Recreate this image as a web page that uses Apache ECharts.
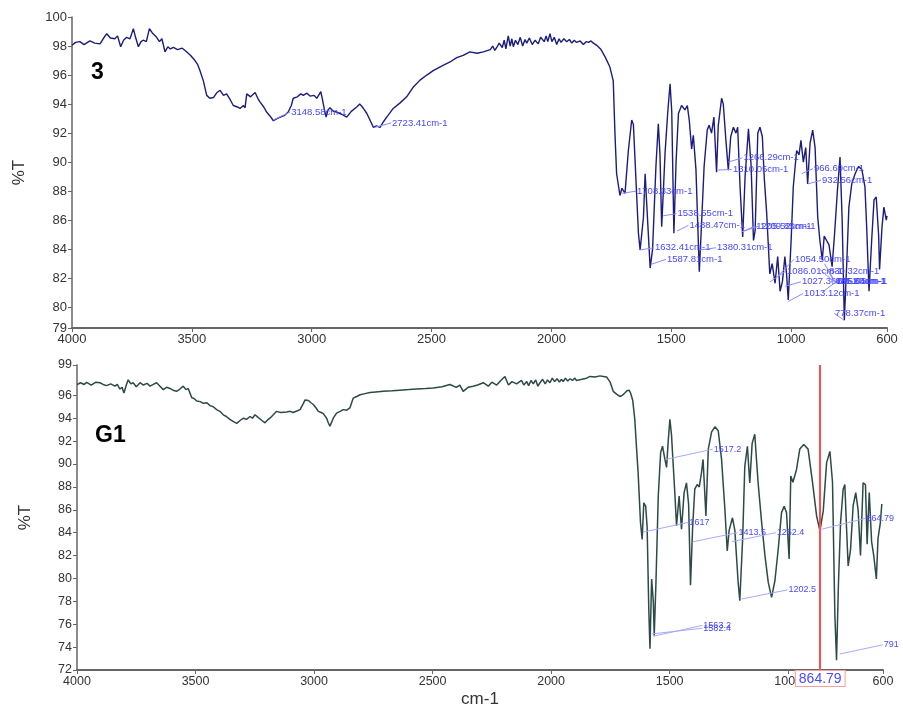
<!DOCTYPE html>
<html>
<head>
<meta charset="utf-8">
<script src="https://cdn.jsdelivr.net/npm/echarts@6/dist/echarts.min.js"></script>
<style>html,body{margin:0;padding:0;background:#fff;}#chart{width:903px;height:709px;}</style>
</head>
<body>
<div id="chart"></div>
<script>
// ---------- DATA ----------
const xTicks = [4000, 3500, 3000, 2500, 2000, 1500, 1000, 600];
const yTicks3 = [78.57, 80, 82, 84, 86, 88, 90, 92, 94, 96, 98, 100];
const yTicksG1 = [72, 74, 76, 78, 80, 82, 84, 86, 88, 90, 92, 94, 96, 98.65];

// spectrum of compound 3: [wavenumber cm-1, %T]
const spectrum3 = [
[4000,98.05],[3985,98.25],[3967,98.3],[3950,98.1],[3925,98.35],[3905,98.2],[3883,98.15],[3870,98.5],[3855,98.85],[3840,98.55],
[3821,98.5],[3810,98.7],[3797,97.95],[3785,98.4],[3772,98.6],[3758,98.5],[3744,99.2],[3735,98.6],[3723,97.95],[3712,98.3],
[3703,98.4],[3690,98.3],[3677,99.2],[3665,98.9],[3647,98.6],[3635,98.3],[3625,98.5],[3612,97.6],[3600,97.95],[3590,97.8],
[3577,97.9],[3560,97.75],[3540,97.85],[3522,97.6],[3505,97.35],[3487,97.0],[3475,96.7],[3466,96.3],[3452,95.6],[3438,94.6],
[3425,94.4],[3410,94.45],[3395,94.8],[3382,94.95],[3368,94.6],[3355,94.7],[3340,94.3],[3327,93.9],[3310,93.8],[3299,93.7],
[3285,93.9],[3278,93.75],[3271,94.7],[3255,94.5],[3236,94.8],[3225,94.4],[3216,94.15],[3200,93.8],[3188,93.45],[3175,93.2],
[3160,92.85],[3145,93.0],[3131,93.1],[3115,93.2],[3098,93.45],[3085,93.9],[3077,94.4],[3060,94.5],[3045,94.7],[3035,94.6],
[3020,94.75],[3007,94.55],[2990,94.6],[2979,94.4],[2962,94.85],[2955,94.3],[2948,93.7],[2940,93.1],[2932,93.6],[2924,93.75],
[2910,93.5],[2896,93.45],[2875,93.3],[2854,93.1],[2835,93.5],[2812,93.8],[2800,94.0],[2791,93.85],[2780,93.6],[2770,93.35],
[2757,92.9],[2743,92.4],[2730,92.5],[2715,92.4],[2700,92.8],[2687,93.1],[2660,93.7],[2630,94.1],[2604,94.5],[2575,95.2],
[2548,95.65],[2520,96.0],[2493,96.3],[2460,96.6],[2423,96.9],[2395,97.2],[2368,97.35],[2340,97.6],[2310,97.5],[2284,97.6],
[2255,97.75],[2245,98.0],[2236,97.7],[2228,97.9],[2218,98.2],[2205,97.9],[2197,98.4],[2190,97.8],[2180,98.7],[2172,98.0],
[2165,98.5],[2159,97.95],[2150,98.4],[2140,98.1],[2130,98.6],[2120,98.0],[2110,98.45],[2103,98.2],[2092,98.55],[2080,98.1],
[2068,98.4],[2055,98.15],[2045,98.6],[2030,98.3],[2022,98.7],[2015,98.3],[2006,98.85],[1998,98.3],[1988,98.6],[1978,98.1],
[1968,98.5],[1960,98.25],[1948,98.5],[1936,98.3],[1925,98.45],[1915,98.2],[1905,98.4],[1895,98.25],[1880,98.35],[1867,98.1],
[1855,98.3],[1845,98.25],[1835,98.35],[1825,98.2],[1811,98.05],[1795,97.8],[1776,97.25],[1756,96.55],[1742,95.6],[1735,92.0],
[1728,89.2],[1714,87.7],[1706,88.2],[1700,88.3],[1693,87.85],[1679,90.8],[1665,92.9],[1658,92.6],[1651,92.5],[1637,85.1],
[1630,83.95],[1616,86.2],[1609,89.2],[1602,87.0],[1588,82.7],[1578,84.0],[1564,89.7],[1554,92.65],[1547,90.5],[1540,85.55],
[1533,88.0],[1526,90.6],[1515,93.35],[1505,95.4],[1498,93.5],[1489,85.1],[1480,90.0],[1470,93.35],[1457,93.9],[1443,93.6],
[1433,93.9],[1425,92.9],[1415,90.9],[1408,91.85],[1397,89.5],[1383,82.45],[1373,86.0],[1363,89.7],[1350,92.2],[1342,92.55],
[1332,92.0],[1322,93.1],[1311,89.3],[1304,92.5],[1290,94.4],[1283,94.0],[1272,91.5],[1262,89.45],[1252,91.75],[1241,92.4],
[1230,92.0],[1223,92.4],[1213,88.3],[1202,84.85],[1192,89.0],[1178,92.3],[1167,89.8],[1157,84.6],[1150,85.3],[1139,92.0],
[1130,92.4],[1120,91.75],[1112,88.9],[1102,86.5],[1089,82.3],[1079,83.0],[1067,81.65],[1056,83.5],[1046,81.1],[1036,81.8],
[1026,83.5],[1019,82.3],[1012,80.5],[1000,84.6],[991,88.3],[977,90.8],[967,90.5],[959,91.5],[949,90.0],[939,91.0],
[931,88.5],[921,91.3],[910,92.2],[900,91.0],[889,86.2],[880,84.6],[870,83.25],[862,84.9],[852,84.6],[842,84.3],
[829,82.8],[819,85.0],[807,88.0],[796,90.35],[787,86.0],[778,79.1],[768,83.0],[759,86.9],[747,88.5],[733,89.2],
[719,89.7],[705,89.5],[692,88.3],[685,85.6],[675,81.1],[664,84.6],[654,87.4],[645,87.6],[635,85.0],[631,82.6],
[621,85.5],[613,86.9],[603,86.0],[600,86.3]
];

// spectrum of G1: [wavenumber cm-1, %T]
const spectrumG1 = [
[4000,96.93],[3985,97.1],[3970,96.95],[3959,97.13],[3940,96.9],[3920,97.15],[3903,97.1],[3890,96.95],[3875,96.85],[3858,97.0],
[3840,96.8],[3830,96.95],[3819,96.55],[3810,96.7],[3802,96.2],[3792,96.9],[3784,97.35],[3773,97.0],[3763,97.1],[3750,96.75],
[3734,97.1],[3720,96.9],[3705,97.05],[3692,96.8],[3678,96.95],[3664,97.1],[3650,96.8],[3636,96.5],[3622,96.7],[3608,96.6],
[3595,96.45],[3580,96.35],[3566,96.55],[3552,96.8],[3540,96.5],[3531,96.6],[3516,95.8],[3505,95.7],[3495,95.5],[3480,95.45],
[3467,95.3],[3452,95.35],[3439,95.1],[3425,95.0],[3411,94.75],[3397,94.6],[3383,94.3],[3370,94.15],[3355,93.9],[3340,93.7],
[3326,93.55],[3312,93.8],[3298,94.0],[3285,93.9],[3270,94.15],[3260,94.0],[3249,94.3],[3235,94.05],[3220,93.8],[3207,93.6],
[3196,93.85],[3186,94.0],[3172,94.3],[3158,94.6],[3140,94.5],[3116,94.55],[3100,94.6],[3088,94.5],[3070,94.65],[3059,94.75],
[3045,95.3],[3038,95.6],[3024,95.55],[3013,95.35],[3003,95.2],[2990,94.85],[2982,94.6],[2970,94.5],[2961,94.4],[2947,94.0],
[2940,93.6],[2933,93.3],[2925,93.7],[2919,94.0],[2905,94.45],[2890,94.6],[2877,94.75],[2862,94.7],[2849,94.9],[2835,95.75],
[2820,95.9],[2806,96.05],[2785,96.15],[2764,96.25],[2740,96.3],[2708,96.35],[2670,96.4],[2638,96.45],[2600,96.5],[2567,96.55],
[2530,96.6],[2497,96.65],[2460,96.75],[2427,96.95],[2400,96.7],[2385,96.9],[2371,96.35],[2350,96.7],[2329,96.8],[2310,96.9],
[2286,97.1],[2265,96.8],[2250,97.15],[2230,96.9],[2212,97.3],[2195,97.65],[2180,96.9],[2165,97.2],[2146,97.0],[2125,97.3],
[2115,96.9],[2103,97.2],[2095,96.85],[2085,97.3],[2075,97.0],[2065,97.35],[2056,96.8],[2047,97.1],[2036,97.4],[2025,97.0],
[2015,97.35],[2005,97.1],[1995,97.5],[1985,97.2],[1975,97.45],[1965,97.15],[1957,97.4],[1949,97.2],[1940,97.5],[1930,97.25],
[1920,97.45],[1910,97.3],[1900,97.5],[1893,97.3],[1870,97.4],[1850,97.5],[1836,97.65],[1815,97.6],[1794,97.7],[1780,97.65],
[1766,97.6],[1752,97.2],[1738,96.35],[1724,96.1],[1710,95.9],[1700,96.0],[1689,96.2],[1680,96.4],[1671,96.45],[1665,96.2],
[1656,95.6],[1647,93.9],[1640,91.5],[1633,89.25],[1623,84.9],[1616,83.4],[1609,86.6],[1601,86.3],[1595,84.5],[1588,77.3],
[1583,73.85],[1576,79.95],[1569,78.0],[1565,75.0],[1558,79.5],[1548,87.2],[1538,91.0],[1530,91.55],[1520,90.4],[1513,89.7],
[1506,92.0],[1499,93.9],[1492,92.5],[1488,91.0],[1479,87.8],[1471,84.6],[1460,87.2],[1450,84.3],[1439,87.5],[1429,88.35],
[1420,86.5],[1412,79.4],[1403,84.5],[1394,87.8],[1384,88.2],[1375,88.0],[1366,89.2],[1359,90.4],[1347,85.45],[1337,91.3],
[1323,92.8],[1309,93.25],[1295,92.9],[1281,90.4],[1267,86.05],[1257,82.4],[1249,84.2],[1235,85.3],[1225,84.2],[1211,79.65],
[1204,78.05],[1192,83.5],[1183,89.8],[1172,91.55],[1162,88.35],[1152,91.8],[1141,92.6],[1127,88.4],[1112,84.9],[1098,82.0],
[1084,79.65],[1070,78.35],[1056,79.8],[1042,82.55],[1028,85.75],[1017,86.3],[1007,85.75],[996,81.7],[989,88.95],[980,88.4],
[965,89.5],[951,91.3],[934,91.7],[916,91.3],[897,88.35],[880,85.45],[866,84.15],[852,85.9],[838,90.1],[824,91.1],
[813,88.4],[803,76.75],[796,72.85],[788,79.5],[779,84.9],[768,87.8],[761,88.2],[754,84.5],[747,81.1],[737,82.5],
[726,86.35],[715,87.5],[705,86.0],[695,82.0],[684,88.35],[674,88.2],[667,83.0],[658,87.5],[648,83.2],[639,82.0],
[628,79.95],[621,83.5],[611,84.9],[605,86.5]
];

// peak annotations: [peak wavenumber, peak %T, label wavenumber, label %T]
const peaks3 = [
[3161,92.9,3090,93.45],[2736,92.4,2669,92.7],[1705,87.85,1647,88.0],[1630,83.95,1572,84.1],
[1585,82.95,1522,83.3],[1534,86.3,1478,86.45],[1476,85.25,1428,85.65],[1380,83.95,1313,84.1],
[1306,89.45,1247,89.5],[1263,90.0,1203,90.3],[1205,85.2,1150,85.6],[1205,85.2,1134,85.6],
[1055,82.15,988,83.3],[1088,81.75,1021,82.5],[825,81.9,846,82.5],[1025,81.45,959,81.75],
[869,81.05,812,81.75],[880,82.6,820,81.75],[861,83.0,816,81.75],[1012,80.4,950,80.95],
[956,89.2,909,89.55],[930,88.5,875,88.75],[779,79.1,821,79.6]
];
const peakLabels3 = [
'3148.58cm-1','2723.41cm-1','1708.33cm-1','1632.41cm-1','1587.81cm-1','1538.55cm-1','1488.47cm-1','1380.31cm-1',
'1310.05cm-1','1266.29cm-1','1205.52cm-1','1209.85cm-1','1054.50cm-1','1086.01cm-1','830.32cm-1','1027.36cm-1',
'675.05cm-1','631.80cm-1','705.64cm-1','1013.12cm-1','966.69cm-1','932.56cm-1','778.37cm-1'
];
const peaksG1 = [
[1516,90.4,1318,91.3],[1612,84.05,1421,84.9],[1403,83.2,1214,84.0],[1239,83.2,1052,84.0],
[1197,78.2,1003,79.0],[1569,74.95,1362,75.9],[1575,75.15,1362,75.65],[859,84.3,674,85.25],[782,73.4,601,74.2]
];
const peakLabelsG1 = ['1517.2','1617','1413.5','1252.4','1202.5','1563.2','1582.4','864.79','791'];
const cursorG1 = 864.79;

// ---------- CHART ----------
const FONT = '"Liberation Sans", Arial, sans-serif';
const chart = echarts.init(document.getElementById('chart'), null, {renderer: 'canvas'});

function xAxisCfg(gridIndex, name, fs) {
  return {
    type: 'value', gridIndex, min: 600, max: 4000, inverse: true,
    name: name, nameLocation: 'middle', nameGap: 21,
    nameTextStyle: {fontFamily: FONT, fontSize: 17, color: '#333'},
    axisLine: {onZero: false, lineStyle: {color: '#666', width: 2}},
    axisTick: {show: true, length: 4, customValues: xTicks, lineStyle: {color: '#666'}},
    axisLabel: {customValues: xTicks, margin: 5, fontFamily: FONT, fontSize: fs, color: '#333',
      formatter: v => String(v)},
    splitLine: {show: false}
  };
}
function yAxisCfg(gridIndex, min, max, ticks, fs, gap) {
  return {
    type: 'value', gridIndex, min, max,
    name: '%T', nameLocation: 'middle', nameGap: gap, nameRotate: 90,
    nameTextStyle: {fontFamily: FONT, fontSize: 17, color: '#333'},
    axisLine: {show: true, lineStyle: {color: '#666', width: 1.5}},
    axisTick: {show: true, length: 4, customValues: ticks, lineStyle: {color: '#666'}},
    axisLabel: {customValues: ticks, margin: 5, fontFamily: FONT, fontSize: fs, color: '#333',
      formatter: v => String(Math.round(v))},
    splitLine: {show: false}
  };
}
function annotSeries(xi, data, labels, textColor, leaderColor, fs) {
  return {
    type: 'custom', xAxisIndex: xi, yAxisIndex: xi, clip: false, silent: true, z: 5,
    data: data,
    renderItem: function (params, api) {
      const p = api.coord([api.value(0), api.value(1)]);
      const q = api.coord([api.value(2), api.value(3)]);
      return {
        type: 'group',
        children: [
          {type: 'line', shape: {x1: p[0], y1: p[1], x2: q[0], y2: q[1]},
           style: {stroke: leaderColor, lineWidth: 1}},
          {type: 'text', x: q[0] + 1, y: q[1],
           style: {text: labels[params.dataIndex], fill: textColor, fontSize: fs, fontFamily: FONT,
                   align: 'left', verticalAlign: 'middle'}}
        ]
      };
    }
  };
}

chart.setOption({
  animation: false,
  backgroundColor: '#fff',
  title: [
    {text: '3', left: 91, top: 61, padding: 0, textStyle: {fontFamily: FONT, fontSize: 23, fontWeight: 'bold', color: '#000'}},
    {text: 'G1', left: 95, top: 424, padding: 0, textStyle: {fontFamily: FONT, fontSize: 23, fontWeight: 'bold', color: '#000'}}
  ],
  grid: [
    {left: 72, right: 16, top: 17, height: 311},
    {left: 77, right: 20, top: 365, height: 306}
  ],
  xAxis: [xAxisCfg(0, '', 13), xAxisCfg(1, 'cm-1', 12.5)],
  yAxis: [yAxisCfg(0, 78.57, 100, yTicks3, 13, 44), yAxisCfg(1, 72, 98.65, yTicksG1, 12.5, 43)],
  series: [
    {type: 'line', xAxisIndex: 0, yAxisIndex: 0, data: spectrum3, showSymbol: false, symbol: 'none',
     lineStyle: {color: '#1c1c7c', width: 1.4}, z: 3},
    {type: 'line', xAxisIndex: 1, yAxisIndex: 1, data: spectrumG1, showSymbol: false, symbol: 'none',
     lineStyle: {color: '#2c4a46', width: 1.5}, z: 3,
     markLine: {
       silent: true, symbol: ['none', 'none'], animation: false,
       lineStyle: {color: '#ff4d4d', width: 2, type: 'solid'},
       label: {show: true, position: 'start', distance: 1, formatter: () => String(cursorG1),
               fontFamily: FONT, fontSize: 14, color: '#4a4aff', backgroundColor: '#fff',
               borderColor: '#f2a0a0', borderWidth: 1, padding: [1, 3, 0, 3]},
       data: [{xAxis: cursorG1}]
     }},
    annotSeries(0, peaks3, peakLabels3, '#4646ff', '#8a8aff', 9.5),
    annotSeries(1, peaksG1, peakLabelsG1, '#4a4aff', '#a8a8ff', 9)
  ]
});
</script>
</body>
</html>
